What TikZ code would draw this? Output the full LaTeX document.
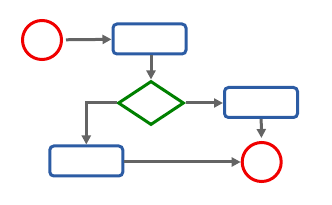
\documentclass[tikz,border=0pt]{standalone}
\usepackage{tikz}
\usetikzlibrary{arrows.meta,positioning,shapes.geometric}
\definecolor{fcred}{RGB}{240,0,0}
\definecolor{fcblue}{RGB}{44,92,164}
\definecolor{fcgreen}{RGB}{0,128,0}
\definecolor{fcgray}{RGB}{100,100,100}

\begin{document}
\begin{tikzpicture}[
  x=1pt, y=-1pt,
  term/.style={circle, draw=fcred, line width=3pt, minimum size=39pt, inner sep=0pt},
  proc/.style={rectangle, draw=fcblue, line width=3pt, rounded corners=4pt, minimum width=73pt, minimum height=30pt, inner sep=0pt},
  decide/.style={diamond, draw=fcgreen, line width=3pt, minimum width=66pt, minimum height=44pt, inner sep=0pt},
  flow/.style={line width=3pt, fcgray, -{Triangle[length=9pt,width=9pt]}},
  >=Stealth
]
\useasboundingbox (0,0) rectangle (332,205);

% Nodes
\node[term] (start) at (42, 40) {};
\node[proc] (p1) at (149.5, 39) {};
\node[decide] (d1) at (151, 103) {};
\node[proc] (p2) at (261, 102.5) {};
\node[proc] (p3) at (86.3, 161) {};
\node[term] (stop) at (261.7, 162) {};

% Connections
\draw[flow, shorten <=3pt] (start) -- (p1);
\draw[flow] (p1.south -| d1.north) -- (d1);
\draw[flow] (d1) -- (d1.east -| p2.west);
\draw[flow, shorten >=3pt] (p2) -- (stop);
\draw[flow] (d1.west) -| (p3.north);
\draw[flow] (p3.east |- stop) -- (stop);

\end{tikzpicture}
\end{document}
